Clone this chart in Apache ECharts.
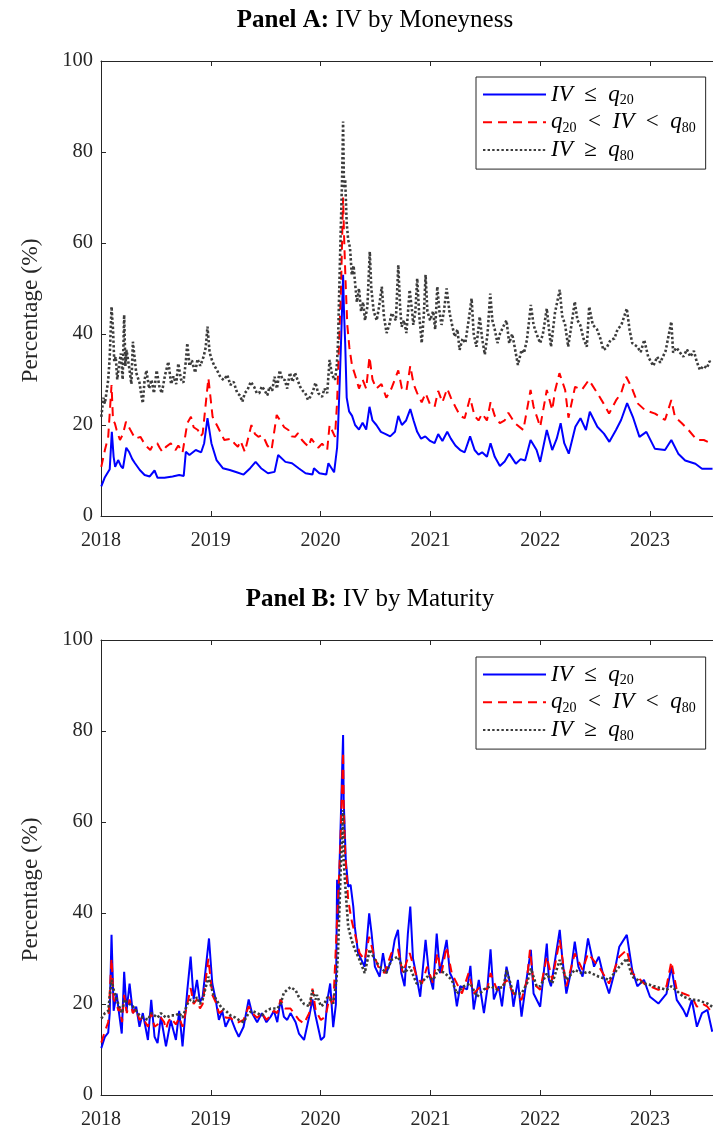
<!DOCTYPE html>
<html>
<head>
<meta charset="utf-8">
<title>IV by Moneyness and Maturity</title>
<script src="https://cdn.jsdelivr.net/npm/echarts@6/dist/echarts.min.js"></script>
<style>
  html, body { margin: 0; padding: 0; background: #fff; }
  #chart { width: 713px; height: 1133px; }
</style>
</head>
<body>
<div id="chart"></div>
<script>
// x axis: years, ticks once a year
const yearTicks = [2018, 2019, 2020, 2021, 2022, 2023]
const xEnd = 2023.574
const yTicks = [0, 20, 40, 60, 80, 100]

// Panel A: IV by moneyness, [date, percent]
const aLow = [
  ['2018-01-02',6.5],['2018-01-13',8.4],['2018-01-30',10.3],['2018-02-06',18.5],['2018-02-12',13],['2018-02-17',10.8],
  ['2018-02-27',12.3],['2018-03-08',11],['2018-03-15',10.5],['2018-03-26',15],['2018-04-05',14],['2018-04-15',12.5],
  ['2018-04-24',11.6],['2018-05-10',10.1],['2018-05-26',9],['2018-06-12',8.7],['2018-06-28',10],['2018-07-08',8.4],
  ['2018-07-31',8.4],['2018-08-27',8.7],['2018-09-18',9],['2018-10-03',8.8],['2018-10-10',14.1],['2018-10-22',13.4],
  ['2018-11-12',14.5],['2018-11-30',14],['2018-12-10',16],['2018-12-21',21.5],['2019-01-03',16],['2019-01-20',12.3],
  ['2019-02-10',10.5],['2019-03-05',10.1],['2019-03-28',9.6],['2019-04-20',9.1],['2019-05-12',10.5],['2019-05-30',11.9],
  ['2019-06-17',10.5],['2019-07-10',9.4],['2019-08-01',9.7],['2019-08-13',13.4],['2019-09-06',11.9],['2019-09-28',11.6],
  ['2019-10-20',10.5],['2019-11-12',9.4],['2019-12-05',9.1],['2019-12-10',10.5],['2019-12-28',9.4],['2020-01-20',9.1],
  ['2020-01-27',11.6],['2020-02-15',9.6],['2020-02-21',10],['2020-02-25',15],['2020-02-28',19],['2020-03-05',30],
  ['2020-03-10',40],['2020-03-16',53],['2020-03-19',45],['2020-03-23',38],['2020-03-28',26],['2020-04-05',23],
  ['2020-04-15',22],['2020-04-25',20],['2020-05-08',19],['2020-05-20',20.5],['2020-06-01',19],['2020-06-12',24],
  ['2020-06-22',21],['2020-07-05',20],['2020-07-20',18.5],['2020-08-05',18],['2020-08-20',17.5],['2020-09-05',18.5],
  ['2020-09-16',22],['2020-09-28',20],['2020-10-12',21],['2020-10-26',23.5],['2020-11-06',21],['2020-11-18',18.5],
  ['2020-12-01',17],['2020-12-15',17.5],['2020-12-31',16.5],['2021-01-15',16],['2021-01-27',18],['2021-02-10',16.5],
  ['2021-02-26',18.5],['2021-03-10',17],['2021-03-25',15.5],['2021-04-10',14.5],['2021-04-25',14],['2021-05-13',17.5],
  ['2021-05-28',14.5],['2021-06-10',13.5],['2021-06-22',14],['2021-07-08',13],['2021-07-20',16],['2021-08-03',13],
  ['2021-08-20',11],['2021-09-05',12],['2021-09-20',13.7],['2021-10-12',11.5],['2021-10-28',12.5],['2021-11-12',12.2],
  ['2021-11-30',16.7],['2021-12-20',14.5],['2022-01-01',11.9],['2022-01-23',18.9],['2022-02-10',14.5],['2022-02-25',17],
  ['2022-03-10',20.4],['2022-03-22',16],['2022-04-06',13.7],['2022-04-28',19.6],['2022-05-15',21.5],['2022-06-02',18.9],
  ['2022-06-15',22.9],['2022-07-10',19.6],['2022-08-01',18.1],['2022-08-19',16.3],['2022-09-10',18.9],['2022-09-27',21.1],
  ['2022-10-17',24.8],['2022-11-05',21.8],['2022-11-27',17.4],['2022-12-20',18.5],['2023-01-17',14.8],['2023-02-20',14.5],
  ['2023-03-13',16.7],['2023-04-05',13.7],['2023-04-28',12.2],['2023-06-01',11.5],['2023-06-23',10.4],['2023-07-28',10.4]
]
const aMid = [
  ['2018-01-02',10.8],['2018-01-14',14.5],['2018-01-25',17.4],['2018-02-05',28.8],['2018-02-10',21],['2018-02-16',20.4],
  ['2018-02-22',18.9],['2018-03-05',16.7],['2018-03-15',18],['2018-03-25',20.7],['2018-04-08',19],['2018-04-25',17],
  ['2018-05-12',17.4],['2018-05-28',15.6],['2018-06-14',14.5],['2018-06-22',15.5],['2018-07-07',16],['2018-07-15',15],
  ['2018-07-24',14.1],['2018-08-05',15.2],['2018-08-21',16],['2018-08-30',15],['2018-09-06',14.5],['2018-09-15',15.5],
  ['2018-09-29',13.9],['2018-10-15',20.4],['2018-10-27',21.8],['2018-11-05',19.5],['2018-11-19',18.9],['2018-11-28',17.5],
  ['2018-12-05',18.1],['2018-12-24',30.3],['2019-01-07',21.8],['2019-01-24',19.6],['2019-02-15',16.7],['2019-03-10',17],
  ['2019-03-20',16],['2019-04-01',15.2],['2019-04-10',16.5],['2019-04-24',14.1],['2019-05-16',20],['2019-05-28',18],
  ['2019-06-08',17.4],['2019-06-20',17.8],['2019-06-30',16.7],['2019-07-08',15.5],['2019-07-22',14.5],['2019-08-08',22.2],
  ['2019-08-25',20.4],['2019-09-02',19.5],['2019-09-16',18.9],['2019-09-26',17.5],['2019-10-08',17.4],['2019-10-18',18.2],
  ['2019-10-31',16.7],['2019-11-10',16],['2019-11-22',15.2],['2019-12-01',17],['2019-12-14',15.9],['2019-12-24',15],
  ['2020-01-06',15.9],['2020-01-23',14.5],['2020-01-31',20],['2020-02-18',17.4],['2020-02-25',25],['2020-03-02',37],
  ['2020-03-09',50],['2020-03-16',70],['2020-03-19',62],['2020-03-24',52],['2020-03-30',42],['2020-04-06',37],
  ['2020-04-15',33],['2020-04-25',31],['2020-05-08',28],['2020-05-20',30],['2020-06-01',28],['2020-06-12',35],
  ['2020-06-22',30],['2020-07-05',28],['2020-07-22',29],['2020-08-07',26],['2020-08-24',28],['2020-09-16',32],
  ['2020-09-28',28],['2020-10-13',27.5],['2020-10-26',33],['2020-11-06',29],['2020-11-18',27],['2020-12-03',25],
  ['2020-12-16',27],['2020-12-31',24.5],['2021-01-15',24],['2021-01-27',27.5],['2021-02-10',25],['2021-02-26',28],
  ['2021-03-10',26],['2021-03-25',24],['2021-04-10',22],['2021-04-25',21.5],['2021-05-13',26],['2021-05-28',22],
  ['2021-06-10',21],['2021-06-22',22.5],['2021-07-08',21],['2021-07-20',25],['2021-08-03',22],['2021-08-20',20.4],
  ['2021-09-05',21],['2021-09-17',22.7],['2021-10-09',20.4],['2021-11-06',18.9],['2021-11-30',27.7],['2021-12-10',24],
  ['2022-01-01',19.6],['2022-01-23',27.7],['2022-02-10',23.3],['2022-02-20',27.7],['2022-03-06',31.4],['2022-03-25',27.7],
  ['2022-04-05',21.6],['2022-04-27',28.4],['2022-05-19',27.7],['2022-06-12',29.9],['2022-07-10',27],['2022-07-31',24.7],
  ['2022-08-18',22.5],['2022-09-10',25.4],['2022-09-27',27],['2022-10-14',30.6],['2022-10-31',28.4],['2022-11-22',24.7],
  ['2022-12-15',23.3],['2023-01-18',22.5],['2023-02-20',21.1],['2023-03-13',25.5],['2023-03-25',21.8],['2023-04-17',20.4],
  ['2023-05-09',18.9],['2023-06-06',16.7],['2023-06-29',16.7],['2023-07-26',15.9]
]
const aHigh = [
  ['2018-01-02',21.8],['2018-01-09',26],['2018-01-14',24.7],['2018-01-25',29.9],['2018-01-30',35],['2018-02-05',46],
  ['2018-02-10',40.9],['2018-02-14',34],['2018-02-19',35],['2018-02-24',30],['2018-03-01',32.7],['2018-03-08',35.7],
  ['2018-03-14',30],['2018-03-19',44.2],['2018-03-23',33],['2018-03-27',36.5],['2018-04-06',32],['2018-04-12',29],
  ['2018-04-17',38.3],['2018-04-28',31.5],['2018-05-09',29.3],['2018-05-14',27],['2018-05-20',24.8],['2018-05-26',30],
  ['2018-06-01',32],['2018-06-10',28],['2018-06-18',29.9],['2018-06-26',27],['2018-07-05',32],['2018-07-14',28.5],
  ['2018-07-22',27],['2018-08-02',31],['2018-08-13',33.9],['2018-08-22',29],['2018-08-30',30.7],['2018-09-08',29],
  ['2018-09-15',33.5],['2018-09-24',30],['2018-10-02',29.3],['2018-10-10',34],['2018-10-15',38],['2018-10-22',33],
  ['2018-10-30',34.2],['2018-11-10',31.5],['2018-11-18',34.5],['2018-11-27',33],['2018-12-08',35],['2018-12-15',37],
  ['2018-12-21',41.6],['2018-12-28',36],['2019-01-05',34.2],['2019-01-13',33],['2019-01-22',32],['2019-02-02',30.5],
  ['2019-02-13',29.9],['2019-02-25',31],['2019-03-07',28.8],['2019-03-18',29.5],['2019-03-30',27],['2019-04-08',26.5],
  ['2019-04-16',25.1],['2019-04-24',27],['2019-05-03',27.7],['2019-05-14',29.5],['2019-05-25',28.4],['2019-06-03',27],
  ['2019-06-11',27],['2019-06-20',28.5],['2019-06-28',27.7],['2019-07-08',26.5],['2019-07-15',28.4],['2019-07-24',27.5],
  ['2019-08-01',30.6],['2019-08-09',28],['2019-08-18',32],['2019-08-27',30],['2019-09-04',29.9],['2019-09-12',28],
  ['2019-09-21',31.5],['2019-09-30',29.5],['2019-10-08',31.5],['2019-10-16',30],['2019-10-25',28.4],['2019-11-03',27.5],
  ['2019-11-11',27],['2019-11-20',25.5],['2019-11-28',26.2],['2019-12-07',27.5],['2019-12-15',29.3],['2019-12-24',27],
  ['2020-01-06',26.2],['2020-01-14',28],['2020-01-23',27],['2020-01-31',34.3],['2020-02-08',31],['2020-02-18',29.9],
  ['2020-02-24',33],['2020-02-28',38],['2020-03-04',52],['2020-03-09',65],['2020-03-13',75],['2020-03-16',86.7],
  ['2020-03-19',72],['2020-03-23',74],['2020-03-28',64.4],['2020-04-02',60.7],['2020-04-08',59],['2020-04-14',53],
  ['2020-04-20',55],['2020-04-24',51.9],['2020-05-01',47],['2020-05-08',50],['2020-05-15',45],['2020-05-22',47],
  ['2020-05-28',43],['2020-06-05',46],['2020-06-13',58.1],['2020-06-18',50],['2020-06-26',45],['2020-07-06',43],
  ['2020-07-14',46],['2020-07-23',50.4],['2020-07-30',44],['2020-08-08',40.2],['2020-08-17',42],['2020-08-25',44.6],
  ['2020-09-08',43],['2020-09-16',55.2],['2020-09-22',46],['2020-09-27',41.6],['2020-10-05',43],['2020-10-13',40.2],
  ['2020-10-24',49.7],['2020-11-01',45],['2020-11-05',42],['2020-11-12',45],['2020-11-18',52.2],['2020-11-25',44],
  ['2020-12-03',38],['2020-12-10',44],['2020-12-16',53],['2020-12-22',45],['2020-12-31',43],['2021-01-10',45],
  ['2021-01-17',41],['2021-01-24',50.4],['2021-01-31',45],['2021-02-07',42],['2021-02-15',45],['2021-02-24',50],
  ['2021-03-06',44.6],['2021-03-14',42],['2021-03-23',39.4],['2021-04-01',41],['2021-04-08',36.5],['2021-04-18',39],
  ['2021-04-27',38],['2021-05-06',42],['2021-05-18',47.8],['2021-05-25',40],['2021-06-03',37.2],['2021-06-14',43.8],
  ['2021-06-22',39],['2021-07-01',35.5],['2021-07-10',40],['2021-07-19',48.9],['2021-07-26',43],['2021-08-03',41],
  ['2021-08-12',38],['2021-08-20',40],['2021-08-31',41.6],['2021-09-11',43],['2021-09-20',38],['2021-09-30',40],
  ['2021-10-08',37.2],['2021-10-19',33.2],['2021-10-31',36.5],['2021-11-08',35.8],['2021-11-18',38.7],['2021-12-01',46.4],
  ['2021-12-10',42],['2021-12-20',40],['2022-01-01',38],['2022-01-10',40],['2022-01-23',45.6],['2022-02-01',40],
  ['2022-02-06',37.2],['2022-02-19',44.6],['2022-03-07',49.7],['2022-03-15',44],['2022-03-25',42],['2022-04-04',37.2],
  ['2022-04-15',42],['2022-04-26',47.1],['2022-05-05',43],['2022-05-14',42],['2022-05-25',39],['2022-06-05',37.2],
  ['2022-06-13',46],['2022-06-25',42],['2022-07-09',41],['2022-07-20',39],['2022-07-30',36.5],['2022-08-10',37],
  ['2022-08-23',38.7],['2022-09-05',39],['2022-09-15',41],['2022-09-28',42],['2022-10-16',45.6],['2022-10-25',41],
  ['2022-11-03',38],['2022-11-20',37.2],['2022-12-01',36],['2022-12-13',38.7],['2022-12-26',35],['2023-01-12',33],
  ['2023-01-25',35],['2023-02-04',33.7],['2023-02-22',36.3],['2023-03-13',42.7],['2023-03-19',35.9],['2023-03-30',37],
  ['2023-04-11',35.9],['2023-04-22',35],['2023-05-04',36.6],['2023-05-15',35],['2023-05-27',36.3],['2023-06-05',34],
  ['2023-06-16',32.1],['2023-06-28',33],['2023-07-09',32.5],['2023-07-18',34],['2023-07-26',33.5]
]

// Panel B: IV by maturity, [date, percent]
const bLow = [
  ['2018-01-02',10.3],['2018-01-14',12.8],['2018-01-25',13.7],['2018-01-30',18],['2018-02-05',35.2],['2018-02-08',28.2],
  ['2018-02-12',18.5],['2018-02-22',22.3],['2018-03-01',18.5],['2018-03-11',13.5],['2018-03-19',27.1],['2018-03-27',18.5],
  ['2018-04-06',24.5],['2018-04-17',18],['2018-04-28',19.4],['2018-05-09',15],['2018-05-20',18],['2018-06-06',12.1],
  ['2018-06-17',20.9],['2018-06-28',12.8],['2018-07-08',11.4],['2018-07-19',17.2],['2018-08-05',10.7],['2018-08-21',16.4],
  ['2018-09-07',12.1],['2018-09-18',18.5],['2018-09-29',10.7],['2018-10-15',23.1],['2018-10-26',30.4],['2018-11-05',21],
  ['2018-11-16',25.3],['2018-11-26',20.4],['2018-12-05',21.6],['2018-12-26',34.4],['2019-01-06',24.5],['2019-01-17',21],
  ['2019-01-28',16.5],['2019-02-08',18.5],['2019-02-19',15],['2019-03-07',17.2],['2019-03-24',14.3],['2019-04-04',12.8],
  ['2019-04-20',15],['2019-05-07',21],['2019-05-18',18],['2019-06-04',16],['2019-06-20',18],['2019-07-05',16],
  ['2019-07-19',17.2],['2019-07-30',18.5],['2019-08-10',16],['2019-08-21',21],['2019-09-01',17.2],['2019-09-12',16.5],
  ['2019-09-23',18],['2019-10-10',16],['2019-10-21',13.5],['2019-11-07',12.1],['2019-11-24',17.2],['2019-12-05',21],
  ['2019-12-16',17.2],['2020-01-02',12.1],['2020-01-13',12.8],['2020-01-24',21],['2020-02-02',24.5],['2020-02-12',14.9],
  ['2020-02-21',19.9],['2020-02-25',47.3],['2020-02-28',38.5],['2020-03-06',55],['2020-03-16',79.1],['2020-03-18',64.8],
  ['2020-03-25',51.6],['2020-04-02',45.8],['2020-04-10',46.2],['2020-04-19',41.4],['2020-04-24',37],['2020-05-05',31.2],
  ['2020-05-16',29.7],['2020-05-27',28.2],['2020-06-11',39.9],['2020-06-19',35.5],['2020-06-30',28.2],['2020-07-16',26],
  ['2020-07-27',31.2],['2020-08-07',26.8],['2020-08-24',29.7],['2020-09-04',34.1],['2020-09-15',36.3],['2020-09-26',26.8],
  ['2020-10-07',23.9],['2020-10-18',35.5],['2020-10-26',41.4],['2020-11-04',30],['2020-11-16',26],['2020-11-28',21.6],
  ['2020-12-16',34.1],['2020-12-27',26.8],['2021-01-10',23.2],['2021-01-22',35.5],['2021-02-02',26.8],['2021-02-24',34.1],
  ['2021-03-07',26.8],['2021-03-18',25.3],['2021-03-30',19.5],['2021-04-10',23.9],['2021-05-03',23.2],['2021-05-14',28.4],
  ['2021-05-25',18.8],['2021-06-11',25.3],['2021-06-28',18],['2021-07-09',23.2],['2021-07-20',32],['2021-07-31',21],
  ['2021-08-16',23.9],['2021-08-27',19.5],['2021-09-11',28.2],['2021-09-29',22.5],['2021-10-04',19.4],['2021-10-19',25.3],
  ['2021-10-31',17.2],['2021-11-18',26],['2021-12-01',31.9],['2021-12-10',22.3],['2022-01-01',19.4],['2022-01-23',33.3],
  ['2022-01-30',25.3],['2022-02-06',23.9],['2022-03-07',36.3],['2022-03-15',30.4],['2022-03-29',22.3],['2022-04-12',26.7],
  ['2022-04-26',33.7],['2022-05-08',28.2],['2022-05-22',26],['2022-06-09',34.4],['2022-06-29',28.2],['2022-07-15',30.4],
  ['2022-07-31',26],['2022-08-18',22.3],['2022-09-04',26.7],['2022-09-21',32.6],['2022-10-16',35.2],['2022-11-03',27.5],
  ['2022-11-20',23.9],['2022-12-12',25.3],['2023-01-01',21.6],['2023-01-29',20.1],['2023-02-25',22.3],['2023-03-13',28.2],
  ['2023-03-31',20.9],['2023-04-22',18.7],['2023-05-03',17.2],['2023-05-20',20.9],['2023-06-06',15],['2023-06-23',18],
  ['2023-07-11',18.7],['2023-07-27',13.9]
]
const bMid = [
  ['2018-01-02',11.5],['2018-01-14',14],['2018-01-25',16],['2018-02-05',30],['2018-02-12',21],['2018-02-22',20],
  ['2018-02-28',18.5],['2018-03-05',19],['2018-03-12',16],['2018-03-19',22],['2018-03-28',18],['2018-04-06',21],
  ['2018-04-17',18],['2018-04-28',19],['2018-05-09',16.5],['2018-05-20',17],['2018-06-06',15],['2018-06-17',18],
  ['2018-06-28',15],['2018-07-08',15.5],['2018-07-19',17],['2018-07-30',16],['2018-08-05',14.5],['2018-08-12',16],
  ['2018-08-21',17],['2018-09-07',15.5],['2018-09-18',17],['2018-09-29',15],['2018-10-15',20],['2018-10-26',23.5],
  ['2018-11-05',20],['2018-11-16',21],['2018-11-26',19],['2018-12-05',20],['2018-12-24',30],['2019-01-06',22],
  ['2019-01-20',20],['2019-01-28',18],['2019-02-08',18.5],['2019-02-20',17],['2019-03-07',17],['2019-03-24',16],
  ['2019-04-04',16],['2019-04-20',16.5],['2019-05-07',19.5],['2019-05-18',18],['2019-06-04',17],['2019-06-20',18],
  ['2019-07-05',16.5],['2019-07-19',17.5],['2019-07-30',18.5],['2019-08-10',18],['2019-08-21',21],['2019-09-05',19],
  ['2019-09-23',19],['2019-10-10',17.5],['2019-10-21',16.5],['2019-11-07',15.7],['2019-11-24',18],['2019-12-05',23.4],
  ['2019-12-16',18.5],['2020-01-02',16.5],['2020-01-13',17],['2020-01-20',18],['2020-01-31',21.6],['2020-02-12',19.4],
  ['2020-02-25',38.5],['2020-03-06',53.2],['2020-03-16',75.4],['2020-03-18',64],['2020-03-23',53.2],['2020-04-02',42.9],
  ['2020-04-13',38.5],['2020-04-24',35.5],['2020-05-10',31.2],['2020-05-27',29.7],['2020-06-11',34.8],['2020-06-25',31.2],
  ['2020-07-11',28.2],['2020-08-01',26.8],['2020-08-24',31.2],['2020-09-15',32],['2020-10-01',26.8],['2020-10-24',31.2],
  ['2020-11-16',26],['2020-12-04',24.5],['2020-12-21',28.2],['2021-01-10',24.5],['2021-01-24',31.2],['2021-02-07',26.8],
  ['2021-02-24',32.6],['2021-03-13',26.8],['2021-03-30',24.5],['2021-04-16',22.3],['2021-05-08',26.8],['2021-05-25',22.3],
  ['2021-06-17',23.9],['2021-07-09',23.2],['2021-07-20',26.8],['2021-08-10',23.2],['2021-08-20',23.1],['2021-09-11',25.3],
  ['2021-10-04',22.3],['2021-10-31',20.9],['2021-11-18',25.3],['2021-11-28',31.9],['2021-12-10',24.5],['2022-01-01',23.1],
  ['2022-01-23',30.4],['2022-02-10',25.3],['2022-03-07',34.1],['2022-03-29',23.9],['2022-04-26',31.1],['2022-05-22',27.5],
  ['2022-06-09',31.1],['2022-07-15',28.2],['2022-08-18',24.5],['2022-09-21',30.4],['2022-10-16',31.9],['2022-11-03',26.7],
  ['2022-11-20',26],['2022-12-12',24.5],['2023-01-01',23.9],['2023-01-29',23.1],['2023-02-25',23.9],['2023-03-13',29.3],
  ['2023-03-31',23.1],['2023-04-22',22.3],['2023-05-20',21.6],['2023-06-06',19.4],['2023-06-23',20.1],['2023-07-11',19.4],
  ['2023-07-27',18]
]
const bHigh = [
  ['2018-01-02',16.8],['2018-01-14',18],['2018-01-25',18.5],['2018-02-05',25.3],['2018-02-12',23.1],['2018-02-22',21],
  ['2018-03-05',19],['2018-03-12',18],['2018-03-19',21],['2018-04-06',20],['2018-04-17',19.5],['2018-04-28',18.5],
  ['2018-05-09',17.5],['2018-05-20',17],['2018-06-06',16.5],['2018-06-17',18],['2018-07-08',17],['2018-07-19',18],
  ['2018-08-05',17],['2018-08-21',17.5],['2018-09-07',17.5],['2018-09-18',18],['2018-09-29',17],['2018-10-15',20],
  ['2018-10-26',21],['2018-11-05',20.5],['2018-11-16',21.5],['2018-11-26',20],['2018-12-05',21],['2018-12-24',26],
  ['2019-01-10',22],['2019-01-28',20],['2019-02-08',19],['2019-02-20',18.5],['2019-03-07',17.5],['2019-03-24',17],
  ['2019-04-04',16.5],['2019-04-20',16],['2019-05-07',18],['2019-05-18',18.5],['2019-06-04',18],['2019-06-20',17.5],
  ['2019-07-05',18.5],['2019-07-19',19],['2019-08-10',19],['2019-08-21',20],['2019-09-01',22.5],['2019-09-23',23.7],
  ['2019-10-10',23],['2019-10-21',21.5],['2019-11-07',20],['2019-11-24',19.5],['2019-12-05',23],['2019-12-16',21],
  ['2019-12-20',22],['2020-01-02',19.5],['2020-01-13',20],['2020-01-24',21.5],['2020-02-02',21],['2020-02-12',20.1],
  ['2020-02-23',25.3],['2020-02-28',31.2],['2020-03-08',49.5],['2020-03-16',62.6],['2020-03-18',51.6],['2020-03-25',44.3],
  ['2020-04-02',37],['2020-04-13',34.1],['2020-04-24',32],['2020-05-10',29.7],['2020-05-27',26.8],['2020-06-13',32],
  ['2020-06-30',29.7],['2020-07-16',28.2],['2020-08-07',26.8],['2020-08-24',29.7],['2020-09-15',30.4],['2020-10-07',26.8],
  ['2020-10-24',28.2],['2020-11-16',24.5],['2020-11-28',24.5],['2020-12-21',26],['2021-01-10',25.3],['2021-01-27',27.5],
  ['2021-02-18',26.8],['2021-03-13',25.3],['2021-03-30',22.3],['2021-04-22',23.9],['2021-05-14',24.5],['2021-06-05',21.6],
  ['2021-06-28',23.2],['2021-07-20',23.9],['2021-08-10',23.2],['2021-09-02',23.9],['2021-09-11',27.5],['2021-10-04',22.3],
  ['2021-10-31',22.3],['2021-11-18',24.5],['2021-12-01',27.8],['2021-12-20',23.9],['2022-01-01',23.9],['2022-01-23',26.7],
  ['2022-02-10',24.5],['2022-03-07',29.7],['2022-03-29',25.3],['2022-04-26',27.5],['2022-05-22',26.7],['2022-06-09',27.1],
  ['2022-07-15',26],['2022-08-18',25.3],['2022-09-21',28.2],['2022-10-16',30],['2022-11-03',26],['2022-12-12',24.5],
  ['2023-01-01',24.2],['2023-02-25',23.1],['2023-03-13',23.9],['2023-04-22',21.6],['2023-05-20',20.9],['2023-06-06',20.9],
  ['2023-07-11',20.1],['2023-07-27',19.4]
]

// legend labels (math style): italic letters, upright relations, subscripts
const sp = '\u2002'
const legendText = {
  low: '{i|IV}{o|' + sp + '\u2264' + sp + '}{i|q}{s|20}',
  mid: '{i|q}{s|20}{o|' + sp + '<' + sp + '}{i|IV}{o|' + sp + '<' + sp + '}{i|q}{s|80}',
  high: '{i|IV}{o|' + sp + '\u2265' + sp + '}{i|q}{s|80}'
}

const serif = 'Liberation Serif'
const axisColor = '#262626'

// date string -> fractional year
function toYear(d) {
  const [y, m, day] = d.split('-').map(Number)
  const start = Date.UTC(y, 0, 1)
  const end = Date.UTC(y + 1, 0, 1)
  return y + (Date.UTC(y, m - 1, day) - start) / (end - start)
}
const toXY = (arr) => arr.map((p) => [toYear(p[0]), p[1]]).sort((a, b) => a[0] - b[0])

const grids = [
  { left: 101, top: 61, width: 612, height: 455 },
  { left: 101, top: 640, width: 612, height: 455 },
]

function xAxisFor(gridIndex, position) {
  return {
    type: 'value',
    gridIndex,
    position,
    min: yearTicks[0],
    max: xEnd,
    interval: 1,
    splitLine: { show: false },
    axisLine: { lineStyle: { color: axisColor, width: 1 } },
    axisTick: { inside: true, length: 5, lineStyle: { color: axisColor } },
    axisLabel: {
      show: position === 'bottom',
      showMaxLabel: false,
      margin: 15,
      fontFamily: serif,
      fontSize: 20,
      color: axisColor,
      formatter: (v) => (yearTicks.includes(Math.round(v * 1000) / 1000) ? String(Math.round(v)) : ''),
    },
  }
}

function yAxisFor(gridIndex) {
  return {
    type: 'value',
    gridIndex,
    min: yTicks[0],
    max: yTicks[yTicks.length - 1],
    interval: 20,
    name: 'Percentage (%)',
    nameLocation: 'middle',
    nameGap: 58,
    nameTextStyle: { fontFamily: serif, fontSize: 23.5, color: axisColor, padding: [0, 44, 0, 0] },
    splitLine: { show: false },
    axisLine: { show: true, lineStyle: { color: axisColor, width: 1 } },
    axisTick: { inside: true, length: 5, lineStyle: { color: axisColor } },
    axisLabel: { margin: 8, fontFamily: serif, fontSize: 20.5, color: axisColor },
  }
}

const styles = {
  low: { color: '#0000ff', type: 'solid', width: 2 },
  mid: { color: '#ff0000', type: [9, 6], width: 2 },
  high: { color: '#3c3c3c', type: [2.4, 2.2], width: 2.6 },
}

function lineSeries(name, data, key, idx) {
  return {
    name,
    type: 'line',
    xAxisIndex: idx * 2,
    yAxisIndex: idx,
    data: toXY(data),
    showSymbol: false,
    symbol: 'none',
    smooth: false,
    lineStyle: styles[key],
    itemStyle: { color: styles[key].color },
    emphasis: { disabled: true },
  }
}

function legendFor(names, top) {
  return {
    data: names,
    orient: 'vertical',
    left: 476,
    top,
    itemWidth: 63,
    itemHeight: 14,
    itemGap: 3.3,
    padding: [6, 10, 6, 6],
    backgroundColor: '#fff',
    borderColor: axisColor,
    borderWidth: 1,
    borderRadius: 0,
    selectedMode: false,
    itemStyle: { opacity: 0 },
    formatter: (n) => legendText[n.split('_')[1]],
    textStyle: {
      color: '#000',
      rich: {
        i: { fontFamily: serif, fontStyle: 'italic', fontSize: 23, lineHeight: 26, verticalAlign: 'middle' },
        o: { fontFamily: serif, fontSize: 23, lineHeight: 26, verticalAlign: 'middle' },
        s: { fontFamily: serif, fontSize: 14, lineHeight: 12, verticalAlign: 'bottom' },
      },
    },
  }
}

function titleFor(bold, rest, left, top) {
  return {
    text: '{b|' + bold + '} ' + rest,
    left,
    top,
    textAlign: 'center',
    textStyle: {
      fontFamily: serif,
      fontSize: 25,
      fontWeight: 'normal',
      color: '#000',
      rich: { b: { fontFamily: serif, fontSize: 25, fontWeight: 'bold', color: '#000' } },
    },
  }
}

const chart = echarts.init(document.getElementById('chart'), null, { renderer: 'canvas' })

const option = {
  animation: false,
  backgroundColor: '#fff',
  title: [titleFor('Panel A:', 'IV by Moneyness', 370, 3), titleFor('Panel B:', 'IV by Maturity', 365, 582)],
  grid: grids,
  xAxis: [xAxisFor(0, 'bottom'), xAxisFor(0, 'top'), xAxisFor(1, 'bottom'), xAxisFor(1, 'top')],
  yAxis: [yAxisFor(0), yAxisFor(1)],
  legend: [legendFor(['A_low', 'A_mid', 'A_high'], 77), legendFor(['B_low', 'B_mid', 'B_high'], 657)],
  series: [
    lineSeries('A_low', aLow, 'low', 0),
    lineSeries('A_mid', aMid, 'mid', 0),
    lineSeries('A_high', aHigh, 'high', 0),
    lineSeries('B_low', bLow, 'low', 1),
    lineSeries('B_mid', bMid, 'mid', 1),
    lineSeries('B_high', bHigh, 'high', 1),
  ],
}

chart.setOption(option)
</script>
</body>
</html>
